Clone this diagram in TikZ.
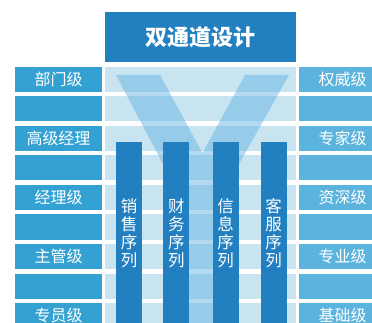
\documentclass[tikz,border=0pt]{standalone}
\usepackage{fontspec}
\setmainfont{Noto Sans CJK SC}
\definecolor{titleblue}{HTML}{2280C0}
\definecolor{leftblue}{HTML}{33A2D3}
\definecolor{rightblue}{HTML}{5AB4DD}
\definecolor{midbg}{HTML}{C9E4F1}
\definecolor{vblue}{HTML}{5AAEE0}
\tikzset{
  leftbox/.style={fill=leftblue,minimum width=87pt,minimum height=25pt,inner sep=0pt,text=white,font=\fontsize{16}{18}\selectfont},
  rightbox/.style={fill=rightblue,minimum width=87pt,minimum height=25pt,inner sep=0pt,text=white,font=\fontsize{16}{18}\selectfont},
  midrow/.style={fill=midbg,minimum width=191pt,minimum height=25pt,inner sep=0pt},
  titlebox/.style={fill=titleblue,minimum width=191pt,minimum height=50pt,inner sep=0pt,text=white,font=\fontsize{22}{24}\selectfont\bfseries},
  colbox/.style={fill=titleblue,minimum width=26pt,minimum height=190pt,inner sep=0pt},
  coltext/.style={text=white,align=center,inner sep=0pt,font=\fontsize{16.5}{18}\selectfont}
}
\begin{document}
\begin{tikzpicture}[x=1pt,y=-1pt]
\useasboundingbox (0,0) rectangle (372,323);
\clip (0,0) rectangle (372,323);
\fill[white] (0,0) rectangle (372,323);
\node[titlebox] (title) at (200.5,37) {双通道设计};
\foreach \i/\l/\r in {0/部门级/权威级,1//,2/高级经理/专家级,3//,4/经理级/资深级,5//,6/主管级/专业级,7//,8/专员级/基础级}{
  \pgfmathsetmacro\yc{79.5+29.5*\i}
  \node[leftbox] (L\i) at (58.5,\yc) {\l};
  \node[midrow] (M\i) at (200.5,\yc) {};
  \node[rightbox] (R\i) at (342.5,\yc) {\r};
}
\fill[vblue,opacity=0.45] (116,75) -- (160,75) -- (202.5,153) -- (245,75) -- (289,75) -- (238.5,165) -- (238.5,330) -- (163.5,330) -- (163.5,165) -- cycle;
\node[colbox] (C1) at (129,237) {};
\node[colbox] (C2) at (176.25,237) {};
\node[colbox] (C3) at (225.5,237) {};
\node[colbox] (C4) at (273.5,237) {};
\node[coltext] (T1) at (129,233.5) {销\\售\\序\\列};
\node[coltext] (T2) at (176.25,233.5) {财\\务\\序\\列};
\node[coltext] (T3) at (225.5,233.5) {信\\息\\序\\列};
\node[coltext] (T4) at (273.5,233.5) {客\\服\\序\\列};
\end{tikzpicture}
\end{document}
